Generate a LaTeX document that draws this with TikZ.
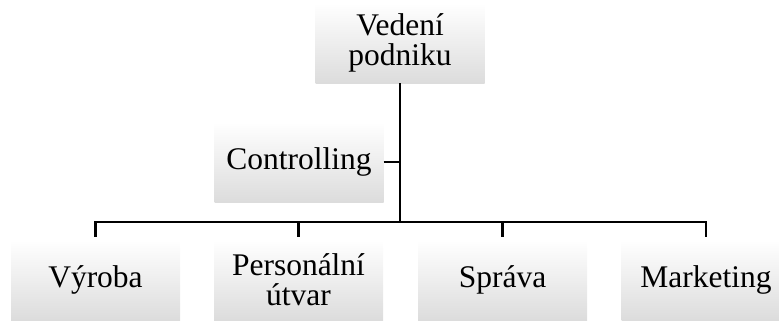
\documentclass[tikz,border=0pt]{standalone}
\usepackage{fontspec}
\setmainfont{Liberation Serif}
\definecolor{boxgray}{RGB}{220,220,220}
\begin{document}
\begin{tikzpicture}[x=1pt,y=1pt,
  orgbox/.style={minimum width=169pt,minimum height=80pt,inner sep=0pt,
    align=center,top color=white,middle color=white,bottom color=boxgray,
    font=\fontsize{31.5pt}{30pt}\selectfont},
  link/.style={line width=2.8pt,draw=black}]
\useasboundingbox (0,0) rectangle (779,-322);
\node[orgbox] (top) at (400,-43) {Vedení\\podniku};
\node[orgbox] (ctrl) at (299,-162) {Controlling};
\node[orgbox] (vyr) at (95.5,-280) {Výroba};
\node[orgbox] (pers) at (298.5,-280) {Personální\\útvar};
\node[orgbox] (spr) at (502.5,-280) {Správa};
\node[orgbox] (mkt) at (706,-280) {Marketing};
\coordinate (bus) at (400,-222);
\draw[link] (top.south) -- (bus);
\draw[link] (ctrl.east) -- (ctrl.east -| top.south);
\draw[link,shorten >=3pt] (bus) -| (vyr.north);
\draw[link,shorten >=3pt] (bus) -| (pers.north);
\draw[link,shorten >=3pt] (bus) -| (spr.north);
\draw[link,shorten >=3pt] (bus) -| (mkt.north);
\end{tikzpicture}
\end{document}
